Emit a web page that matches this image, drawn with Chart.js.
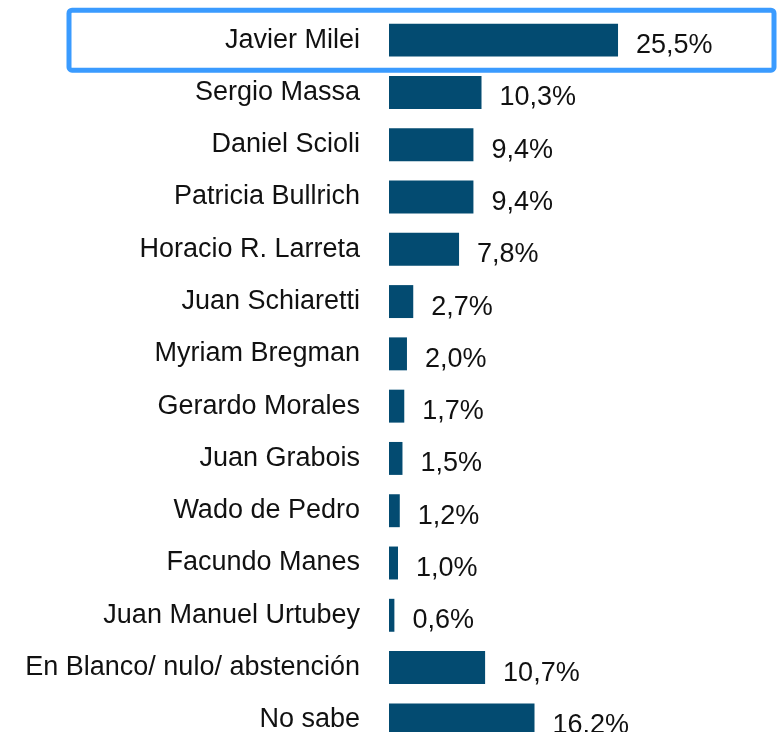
<!DOCTYPE html>
<html>
<head>
<meta charset="utf-8">
<script src="https://cdn.jsdelivr.net/npm/chart.js@4"></script>
<style>
  html, body { margin: 0; padding: 0; background: #fff; overflow: hidden; }
  #wrap { width: 777px; height: 732px; overflow: hidden; }
  canvas { display: block; }
</style>
</head>
<body>
<div id="wrap"><canvas id="chart" width="777" height="746"></canvas></div>
<script>
const candidates = [
  'Javier Milei', 'Sergio Massa', 'Daniel Scioli', 'Patricia Bullrich',
  'Horacio R. Larreta', 'Juan Schiaretti', 'Myriam Bregman', 'Gerardo Morales',
  'Juan Grabois', 'Wado de Pedro', 'Facundo Manes', 'Juan Manuel Urtubey',
  'En Blanco/ nulo/ abstención', 'No sabe'
];
const votes = [25.5, 10.3, 9.4, 9.4, 7.8, 2.7, 2.0, 1.7, 1.5, 1.2, 1.0, 0.6, 10.7, 16.2];
const highlighted = 'Javier Milei';

const FONT = '"Liberation Sans", Arial, sans-serif';

const valueLabels = {
  id: 'valueLabels',
  afterDatasetsDraw(chart) {
    const ctx = chart.ctx;
    const meta = chart.getDatasetMeta(0);
    ctx.save();
    ctx.font = '27px ' + FONT;
    ctx.fillStyle = '#111';
    ctx.textAlign = 'left';
    ctx.textBaseline = 'alphabetic';
    meta.data.forEach((bar, i) => {
      const txt = votes[i].toFixed(1).replace('.', ',') + '%';
      ctx.fillText(txt, bar.x + 18, bar.y + 13);
    });
    ctx.restore();
  }
};

const highlightBox = {
  id: 'highlightBox',
  afterDraw(chart) {
    const ctx = chart.ctx;
    const y = chart.scales.y.getPixelForValue(candidates.indexOf(highlighted));
    ctx.save();
    ctx.strokeStyle = '#3a9bff';
    ctx.lineWidth = 5;
    ctx.beginPath();
    ctx.roundRect(69, y - 30, 705, 60, 3);
    ctx.stroke();
    ctx.restore();
  }
};

new Chart(document.getElementById('chart'), {
  type: 'bar',
  data: {
    labels: candidates,
    datasets: [{
      data: votes,
      backgroundColor: '#034b71',
      borderWidth: 0,
      barPercentage: 0.63,
      categoryPercentage: 1
    }]
  },
  options: {
    indexAxis: 'y',
    responsive: false,
    animation: false,
    layout: { padding: { top: 14, bottom: 0, left: 0, right: 0 } },
    plugins: {
      legend: { display: false },
      tooltip: { enabled: false }
    },
    scales: {
      x: {
        display: false,
        min: 0,
        max: 43.2
      },
      y: {
        afterFit(scale) {
          scale.width = 389;
          scale.paddingTop = 0;
          scale.paddingBottom = 0;
        },
        grid: { display: false, drawTicks: false },
        border: { display: false },
        ticks: {
          padding: 29,
          color: '#111',
          font: { size: 27, family: FONT }
        }
      }
    }
  },
  plugins: [valueLabels, highlightBox]
});
</script>
</body>
</html>
